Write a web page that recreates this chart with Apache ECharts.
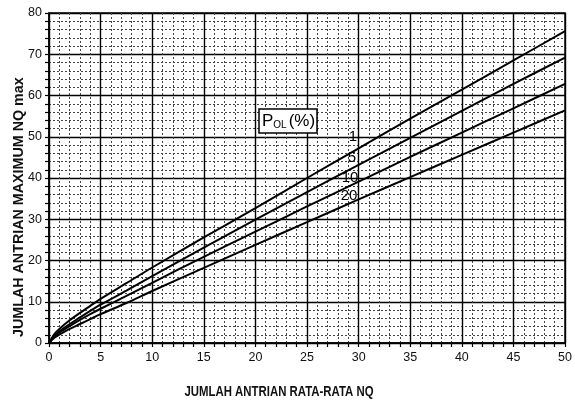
<!DOCTYPE html>
<html><head><meta charset="utf-8">
<script src="https://cdn.jsdelivr.net/npm/echarts@6/dist/echarts.min.js"></script>
<style>html,body{margin:0;padding:0;background:#fff}#c{width:575px;height:407px}</style>
</head><body><div id="c"></div>
<script>
const xNQ   = [0, 0.5, 1, 2, 3, 4, 5, 7.5, 10, 15, 20, 25, 30, 35, 40, 45, 50];
const pol1  = [0, 2.1, 3.4, 5.5, 7.3, 9.0, 10.7, 14.5, 18.3, 25.6, 32.7, 40.0, 47.2, 54.4, 61.4, 68.5, 75.6];
const pol5  = [0, 1.7, 2.8, 4.6, 6.2, 7.8, 9.3, 12.7, 16.2, 23.1, 29.9, 36.6, 43.2, 49.7, 56.3, 62.8, 69.2];
const pol10 = [0, 1.5, 2.5, 4.1, 5.6, 7.0, 8.3, 11.4, 14.6, 20.9, 27.0, 33.1, 39.1, 45.1, 51.0, 56.9, 62.8];
const pol20 = [0, 1.2, 2.0, 3.4, 4.6, 5.8, 7.0, 9.7, 12.6, 18.2, 23.8, 29.3, 34.8, 40.2, 45.6, 51.0, 56.4];
const curveNames = ['1', '5', '10', '20'];
const xTicks = [0, 5, 10, 15, 20, 25, 30, 35, 40, 45, 50];
const yTicks = [0, 10, 20, 30, 40, 50, 60, 70, 80];

const chart = echarts.init(document.getElementById('c'), null, {renderer: 'canvas'});
const mk = (ys) => xNQ.map((x, i) => [x, ys[i]]);
const lineSeries = [pol1, pol5, pol10, pol20].map((ys, i) => ({
  name: curveNames[i], type: 'line', data: mk(ys), smooth: 0.3, symbol: 'none',
  lineStyle: {color: '#000', width: 2}, z: 5
}));

const axisCommon = {
  axisLine: {show: true, lineStyle: {color: '#000', width: 1.5}},
  axisTick: {show: true, length: 4, lineStyle: {color: '#000', width: 1.2}},
  minorTick: {show: true, length: 4, lineStyle: {color: '#000', width: 1.2}},
  splitLine: {show: true, lineStyle: {color: '#000', width: 1.4}},
  minorSplitLine: {show: true, lineStyle: {color: '#444', width: 1, type: [2, 2]}},
  axisLabel: {color: '#111', fontFamily: 'Liberation Sans, Arial, sans-serif', fontSize: 12.5}
};

chart.setOption({
  backgroundColor: '#fff',
  animation: false,
  grid: {left: 49, right: 8, top: 13, bottom: 64, show: true, borderColor: '#000', borderWidth: 1.5, backgroundColor: 'transparent'},
  xAxis: Object.assign({}, axisCommon, {
    type: 'value', min: 0, max: 50, interval: 5,
    minorTick: Object.assign({}, axisCommon.minorTick, {splitNumber: 5}),
    axisLabel: Object.assign({}, axisCommon.axisLabel, {margin: 8, formatter: v => xTicks.includes(v) ? String(v) : ''})
  }),
  yAxis: Object.assign({}, axisCommon, {
    type: 'value', min: 0, max: 80, interval: 10,
    minorTick: Object.assign({}, axisCommon.minorTick, {splitNumber: 5}),
    axisLabel: Object.assign({}, axisCommon.axisLabel, {margin: 7, formatter: v => yTicks.includes(v) ? String(v) : ''})
  }),
  series: lineSeries,
  graphic: [
    {type: 'text', x: 279, y: 392, scaleX: 0.76, style: {text: 'JUMLAH ANTRIAN RATA-RATA NQ', fill: '#111', font: 'bold 15px "Liberation Sans", Arial, sans-serif', textAlign: 'center', textVerticalAlign: 'middle'}},
    {type: 'text', x: 12, y: 337, rotation: Math.PI / 2, style: {text: 'JUMLAH ANTRIAN MAXIMUM NQ max', fill: '#111', font: 'bold 14.3px "Liberation Sans", Arial, sans-serif', textAlign: 'left', textVerticalAlign: 'top'}},
    {type: 'rect', shape: {x: 259, y: 109, width: 58, height: 24}, style: {fill: '#fff', stroke: '#000', lineWidth: 1.5}, z: 10},
    {type: 'text', x: 262, y: 121, z: 11, style: {
      text: '{a|P}{b|OL}{a|(%)}', textVerticalAlign: 'middle',
      rich: {a: {fontSize: 17, fontFamily: 'Liberation Sans, Arial', fill: '#000'}, b: {fontSize: 10, fontFamily: 'Liberation Sans, Arial', fill: '#000', padding: [8, 2, 0, 0]}}
    }},
    {type: 'text', x: 353, y: 137, z: 11, style: {text: '1', fill: '#000', font: '15px "Liberation Sans", Arial', textAlign: 'center', textVerticalAlign: 'middle'}},
    {type: 'text', x: 352, y: 158, z: 11, style: {text: '5', fill: '#000', font: '15px "Liberation Sans", Arial', textAlign: 'center', textVerticalAlign: 'middle'}},
    {type: 'text', x: 350, y: 178, z: 11, style: {text: '10', fill: '#000', font: '15px "Liberation Sans", Arial', textAlign: 'center', textVerticalAlign: 'middle'}},
    {type: 'text', x: 349, y: 196, z: 11, style: {text: '20', fill: '#000', font: '15px "Liberation Sans", Arial', textAlign: 'center', textVerticalAlign: 'middle'}}
  ]
});
</script></body></html>
